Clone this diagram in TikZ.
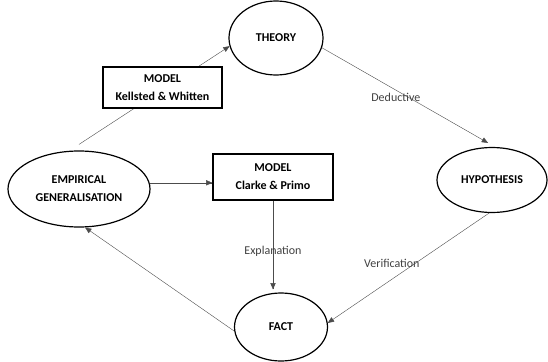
\documentclass[tikz,border=0pt]{standalone}
\usepackage{fontspec}
\setmainfont{Carlito}
\usetikzlibrary{arrows,shapes.geometric}

\tikzset{
  stage/.style={ellipse, draw, line width=1.2pt, fill=white, inner sep=0pt, align=center,
    font=\bfseries\fontsize{12}{18}\selectfont},
  modelbox/.style={rectangle, draw, line width=1.2pt, fill=white, inner sep=0pt, align=center,
    font=\bfseries\fontsize{12}{18}\selectfont},
  link/.style={-triangle 45, draw=black!70},
  linklabel/.style={inner sep=0pt, text=black!75, font=\fontsize{12}{14}\selectfont}
}

\begin{document}
\begin{tikzpicture}[x=1pt,y=-1pt]
       \useasboundingbox (0,0) rectangle (548,361);
       % Draw the four stages
       \node[stage, minimum width=94pt, minimum height=74pt] (theory) at (276,38) {THEORY};
       \node[stage, minimum width=110pt, minimum height=65pt] (hyp) at (492,180) {HYPOTHESIS};
       \node[stage, minimum width=93pt, minimum height=68pt] (fact) at (281,327) {FACT};
       \node[stage, minimum width=142pt, minimum height=76pt] (emp) at (79,189) {EMPIRICAL\\GENERALISATION};
       \node[modelbox, minimum width=120pt, minimum height=46pt] (clarke) at (273,177) {MODEL\\Clarke \& Primo};

       % Draw the links round the cycle
       \draw[link] (theory.-12) -- ([xshift=-4pt,yshift=4pt]hyp.north)
           node[linklabel, pos=0.445, yshift=-7pt] {Deductive};
       \draw[link] (hyp.265) -- (fact.5)
           node[linklabel, pos=0.43, anchor=east, yshift=-3pt] {Verification};
       \draw[link] (fact.185) -- (emp.279);
       \draw[link] (emp.5) -- (emp.5 -| clarke.west);
       \draw[link] (clarke.south) -- ([yshift=3pt]clarke.south |- fact.north)
           node[linklabel, pos=0.57] {Explanation};
       \draw[link] ([yshift=6pt]emp.north) -- (theory.190);

       % Model box laid over the link
       \node[modelbox, minimum width=119pt, minimum height=41pt] (kellsted) at (162.5,87.5) {MODEL\\Kellsted \& Whitten};
\end{tikzpicture}
\end{document}
